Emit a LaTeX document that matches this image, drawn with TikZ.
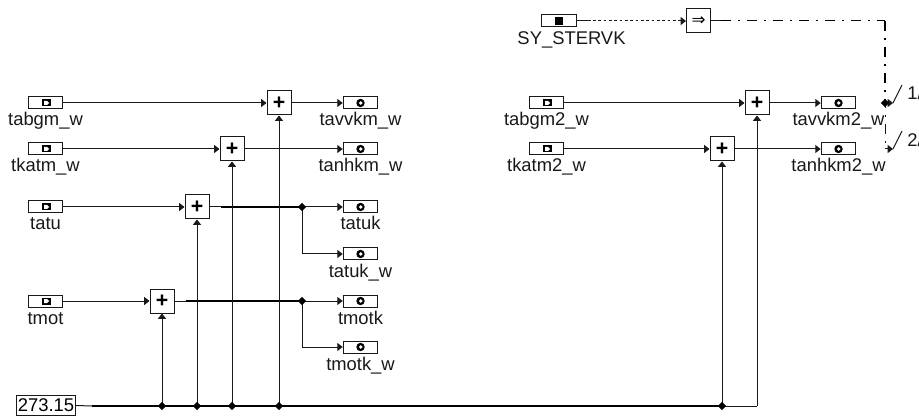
\documentclass[tikz,border=0pt]{standalone}
\usepackage{fontspec}
\setmainfont{Liberation Sans}
\newfontfamily\dvfont{DejaVu Sans}
\usetikzlibrary{arrows.meta,shapes.geometric}
\tikzset{
  x=0.75pt,y=-0.75pt,
  wire/.style={line width=0.75pt,draw=black!90},
  thickwire/.style={line width=1.3pt,black},
  arr/.style={wire,-{Triangle[length=4pt,width=6pt]}},
  port/.style={draw=black!90,line width=0.75pt,fill=white,minimum width=26pt,minimum height=9pt,inner sep=0pt},
  sumbox/.style={draw=black!90,line width=0.75pt,fill=white,minimum width=18pt,minimum height=18pt,inner sep=0pt,font=\fontsize{16pt}{16pt}\selectfont\bfseries},
  lbl/.style={font=\fontsize{13.8pt}{13.8pt}\selectfont,inner sep=0pt,anchor=base,text=black!90},
  junc/.style={diamond,fill=black,inner sep=0pt,minimum size=6.5pt},
  dashdot/.style={dash pattern=on 7.5pt off 5.2pt on 1.5pt off 5.3pt},
  inmark/.pic={\fill[black] (-3.5,-3.5) rectangle (5,3.5);\fill[white] (-1.5,-2)--(1.5,-2)--(3.8,0)--(1.5,2)--(-1.5,2)--cycle;},
  outmark/.pic={\fill[black] (0,0) circle (4.2);\fill[white] (0.2,0) circle (1.9);},
}
\newcommand{\inport}[4]{% name, x, y, label
  \node[port] (#1) at (#2,#3) {};
  \pic at (#2,#3) {inmark};
  \node[lbl] (#1l) at (#2,#3+23) {#4};
}
\newcommand{\outport}[4]{%
  \node[port] (#1) at (#2,#3) {};
  \pic at (#2,#3) {outmark};
  \node[lbl] (#1l) at (#2,#3+23) {#4};
}
\begin{document}
\begin{tikzpicture}
\useasboundingbox (0,0) rectangle (919,416);
\clip (0,0) rectangle (919,416);
% inputs
\inport{a}{45.5}{103}{tabgm\_w}
\inport{b}{45.5}{149}{tkatm\_w}
\inport{c}{45.5}{207}{tatu}
\inport{d}{45.5}{301}{tmot}
\inport{e}{546.5}{103}{tabgm2\_w}
\inport{f}{546.5}{149}{tkatm2\_w}
% sums
\node[sumbox] (s1) at (279,103) {+};
\node[sumbox] (s2) at (232,149) {+};
\node[sumbox] (s3) at (197,207) {+};
\node[sumbox] (s4) at (162,301) {+};
\node[sumbox] (s5) at (757,103) {+};
\node[sumbox] (s6) at (722,149) {+};
% outputs
\outport{o1}{360.5}{103}{tavvkm\_w}
\outport{o2}{360.5}{149}{tanhkm\_w}
\outport{o3}{360.5}{207}{tatuk}
\outport{o4}{360.5}{254}{tatuk\_w}
\outport{o5}{360.5}{301}{tmotk}
\outport{o6}{360.5}{347}{tmotk\_w}
\outport{o7}{838.5}{103}{tavvkm2\_w}
\outport{o8}{838.5}{149}{tanhkm2\_w}
% constant
\node[draw=black!90,line width=0.75pt,minimum width=44pt,minimum height=15.5pt,inner sep=0pt,font=\fontsize{13.8pt}{13.8pt}\selectfont] (k) at (46,405.5) {273.15};
% SY_STERVK
\node[port] (sy) at (559,21) {};
\fill[black] (555,17) rectangle (563,25);
\node[lbl] (syl) at (571.5,44.5) {SY\_STERVK};
\node[draw=black!90,line width=0.75pt,fill=white,minimum width=18pt,minimum height=18pt,inner sep=0pt,font=\dvfont\fontsize{12.5pt}{12.5pt}\selectfont] (imp) at (698.5,21) {⇒};
% wires in
\draw[arr] (a) -- (s1);
\draw[arr] (b) -- (s2);
\draw[arr] (c) -- (s3);
\draw[arr] (d) -- (s4);
\draw[arr] (e) -- (s5);
\draw[arr] (f) -- (s6);
% wires out
\draw[arr] (s1) -- (o1);
\draw[arr] (s2) -- (o2);
\draw[arr] (s5) -- (o7);
\draw[arr] (s6) -- (o8);
\coordinate (j3) at (302,207);
\coordinate (j4) at (302,301);
\draw[wire] (s3) -- (j3);
\draw[thickwire] (221,207) -- (j3);
\draw[arr] (j3) -- (o3);
\draw[arr] (j3) |- (o4);
\draw[wire] (s4) -- (j4);
\draw[thickwire] (186,301) -- (j4);
\draw[arr] (j4) -- (o5);
\draw[arr] (j4) |- (o6);
\node[junc] at (j3) {};
\node[junc] at (j4) {};
% bus
\coordinate (b0) at (92,406);
\coordinate (b1) at (162,406);
\coordinate (b2) at (197,406);
\coordinate (b3) at (232,406);
\coordinate (b4) at (279,406);
\coordinate (b5) at (722,406);
\coordinate (b6) at (757,406);
\draw[wire] (k.east) -- (b0);
\draw[thickwire] (b0) -- (b5);
\draw[wire] (b5) -- (b6);
\draw[arr] (b1) -- (s4);
\draw[arr] (b2) -- (s3);
\draw[arr] (b3) -- (s2);
\draw[arr] (b4) -- (s1);
\draw[arr] (b5) -- (s6);
\draw[arr] (b6) -- (s5);
\foreach \n in {b1,b2,b3,b4,b5} \node[junc] at (\n) {};
% top
\draw[wire,-{Triangle[length=4pt,width=6pt]},dash pattern=on 2pt off 2pt] (sy) -- (imp);
\draw[wire] (sy.east) -- ++(14,0);
\coordinate (t1) at (885,21);
\coordinate (t2) at (885,103);
\coordinate (t3) at (885,149);
\coordinate (e1) at (893,103);
\coordinate (e2) at (893,149);
\coordinate (d0) at (721,21);
\draw[wire] (imp) -- (d0);
\draw[line width=0.75pt,black,dashdot] (d0) -- (t1);
\draw[line width=1.2pt,black,dashdot] (t1) -- (t2);
\draw[wire,dashdot,dash phase=4pt] (t2) -- (t3);
\draw[arr] (t2) -- (e1);
\draw[arr] (t3) -- (e2);
\node[junc] at (t2) {};
\draw[wire] (e1) -- (902,85);
\draw[wire] (e2) -- (902,131);
\node[lbl,anchor=base west] (n1) at (907,100) {1/};
\node[lbl,anchor=base west] (n2) at (907,147) {2/};
\end{tikzpicture}
\end{document}
